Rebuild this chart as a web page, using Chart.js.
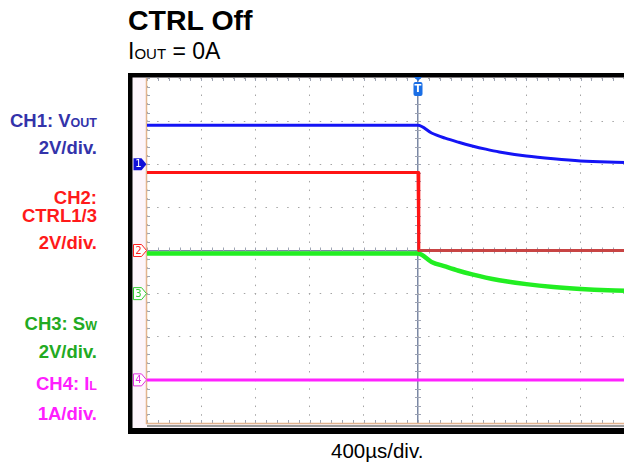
<!DOCTYPE html>
<html>
<head>
<meta charset="utf-8">
<script src="https://cdn.jsdelivr.net/npm/chart.js@4"></script>
<style>
  html, body { margin: 0; padding: 0; background: #fff; }
  body { width: 624px; height: 464px; overflow: hidden; position: relative; font-family: "Liberation Sans", Arial, sans-serif; }
  .t { position: absolute; line-height: 1; white-space: nowrap; }
  .lbl { left: 0; width: 97px; text-align: right; font-weight: bold; font-size: 18.5px; }
  .lbl small { font-size: 12.5px; }
  #wrap { position: absolute; left: 0; top: 0; width: 700px; height: 464px; }
</style>
</head>
<body>
<div class="t" style="left:128px;top:6px;font-size:28.5px;font-weight:bold;">CTRL Off</div>
<div class="t" style="left:128px;top:40px;font-size:23px;">I<span style="font-size:15px">OUT</span> = 0A</div>

<div class="t lbl" style="top:112px;color:#3333aa">CH1: V<small>OUT</small></div>
<div class="t lbl" style="top:139px;color:#3333aa">2V/div.</div>
<div class="t lbl" style="top:189px;color:#ff1a1a">CH2:</div>
<div class="t lbl" style="top:207px;color:#ff1a1a">CTRL1/3</div>
<div class="t lbl" style="top:234px;color:#ff1a1a">2V/div.</div>
<div class="t lbl" style="top:315px;color:#22aa22">CH3: S<small>W</small></div>
<div class="t lbl" style="top:343px;color:#22aa22">2V/div.</div>
<div class="t lbl" style="top:375px;color:#ff20ff">CH4: I<small>L</small></div>
<div class="t lbl" style="top:405px;color:#ff20ff">1A/div.</div>

<div class="t" style="left:331px;top:441px;font-size:20.5px;">400µs/div.</div>

<div id="wrap"><canvas id="scope"></canvas></div>

<script>
// time base in µs, trigger at 0
const timeUs  = [-2000, 0, 100, 200, 300, 400, 500, 600, 800, 1000, 1200, 1400, 1600];
const voutV   = [1.81, 1.81, 1.45, 1.21, 1.02, 0.85, 0.70, 0.57, 0.38, 0.25, 0.15, 0.10, 0.08];
const swV     = [1.86, 1.86, 1.47, 1.26, 1.06, 0.89, 0.74, 0.62, 0.44, 0.31, 0.22, 0.16, 0.13];
const ctrlTime = [-2000, 0, 6, 2000];
const ctrlV    = [3.62, 3.62, 0, 0];
const ilTime  = [-2000, 2000];
const ilA     = [0, 0];

// channel ground position (div from centre) and volts per div
const chGround = [2, 0, -1, -3];
const chPerDiv = [2, 2, 2, 1];
const chColors = ['#1414f5', '#ff1414', '#22ee22', '#ff22ff'];
const chMarkColors = ['#1010d8', '#ff2020', '#33cc33', '#e030e0'];

const pts = (xs, ys) => xs.map((x, i) => ({x, y: ys[i]}));

function chScale(i){
  return { type:'linear', display:false,
    min: (-4 - chGround[i]) * chPerDiv[i], max: (4 - chGround[i]) * chPerDiv[i] };
}

const frame = {
  id: 'frame',
  beforeDraw(chart){
    const {ctx, chartArea: a} = chart;
    ctx.save();
    ctx.fillStyle = '#000';
    ctx.fillRect(a.left - 19, a.top - 5, chart.width, a.bottom - a.top + 16);
    ctx.fillStyle = '#fdf5fb';
    ctx.fillRect(a.left - 14.5, a.top - 0.5, chart.width, a.bottom - a.top + 5.5);
    ctx.fillStyle = '#fff';
    ctx.fillRect(a.left, a.top, a.right - a.left, a.bottom - a.top);
    ctx.restore();
  },
  beforeDatasetsDraw(chart){
    const {ctx, chartArea: a, scales} = chart;
    const x0 = scales.x.getPixelForValue(0), y0 = scales.y.getPixelForValue(0);
    ctx.save();
    ctx.fillStyle = '#9ea4b4';
    for(let i = 0; i <= 50; i++){
      const px = Math.round(scales.x.getPixelForValue(-2000 + i * 80));
      ctx.fillRect(px, a.top, 1, 3);
      ctx.fillRect(px, a.bottom - 3, 1, 3);
      ctx.fillRect(px, y0 - 3, 1, 6);
    }
    for(let i = 0; i <= 40; i++){
      const py = Math.round(scales.y.getPixelForValue(-4 + i * 0.2));
      ctx.fillRect(a.left, py, 3, 1);
      ctx.fillRect(x0 - 3, py, 6, 1);
    }
    // tan borders + grey rail
    ctx.strokeStyle = '#e2b48e';
    ctx.lineWidth = 1.5;
    ctx.beginPath();
    ctx.moveTo(a.left - 0.5, a.top);
    ctx.lineTo(a.left - 0.5, a.bottom + 0.5);
    ctx.lineTo(a.right, a.bottom + 0.5);
    ctx.stroke();
    ctx.strokeStyle = '#9a9a9a';
    ctx.lineWidth = 2;
    ctx.beginPath();
    ctx.moveTo(a.left, a.bottom + 3);
    ctx.lineTo(a.right, a.bottom + 3);
    ctx.stroke();
    ctx.restore();
  },
  afterDraw(chart){
    const {ctx, chartArea: a, scales} = chart;
    ctx.save();
    ctx.font = '10px "DejaVu Sans", sans-serif';
    ctx.textAlign = 'center';
    ctx.textBaseline = 'middle';
    ['ch1','ch2','ch3','ch4'].forEach((id, i) => {
      const py = scales[id].getPixelForValue(0);
      const l = a.left - 13.5, r = a.left - 0.5;
      ctx.beginPath();
      ctx.moveTo(l, py - 6);
      ctx.lineTo(r - 5, py - 6);
      ctx.lineTo(r, py);
      ctx.lineTo(r - 5, py + 6);
      ctx.lineTo(l, py + 6);
      ctx.closePath();
      if(i === 0){
        ctx.fillStyle = chMarkColors[i];
        ctx.fill();
        ctx.fillStyle = '#fff';
      } else {
        ctx.fillStyle = '#fff';
        ctx.fill();
        ctx.strokeStyle = chMarkColors[i];
        ctx.lineWidth = 1;
        ctx.stroke();
        ctx.fillStyle = chMarkColors[i];
      }
      ctx.fillText(String(i + 1), l + 5, py + 0.5);
    });
    // trigger marker
    const tx = scales.x.getPixelForValue(0);
    ctx.fillStyle = '#1a6fe6';
    ctx.beginPath();
    ctx.moveTo(tx - 4, a.top - 1);
    ctx.lineTo(tx + 4, a.top - 1);
    ctx.lineTo(tx, a.top + 3);
    ctx.closePath();
    ctx.fill();
    ctx.beginPath();
    ctx.roundRect(tx - 4.5, a.top + 4, 9, 14, 2);
    ctx.fill();
    ctx.fillStyle = '#fff';
    ctx.font = 'bold 10px "DejaVu Sans", sans-serif';
    ctx.fillText('T', tx, a.top + 11.5);
    ctx.restore();
  }
};

const gridColor = c => c.tick && c.tick.value === 0 ? '#7b88a4' : '#a4a4a4';
const gridWidth = c => c.tick && c.tick.value === 0 ? 1.5 : 1;

new Chart(document.getElementById('scope'), {
  type: 'line',
  data: {
    datasets: [
      { label:'CH1', data: pts(timeUs, voutV), yAxisID:'ch1', borderColor: chColors[0], borderWidth: 3, cubicInterpolationMode:'monotone' },
      { label:'CH2', data: pts(ctrlTime, ctrlV), yAxisID:'ch2', borderColor: chColors[1], borderWidth: 3,
        segment: { borderColor: s => s.p0.parsed.y < 1 ? '#c84444' : undefined } },
      { label:'CH3', data: pts(timeUs, swV), yAxisID:'ch3', borderColor: chColors[2], borderWidth: 4.5, cubicInterpolationMode:'monotone' },
      { label:'CH4', data: pts(ilTime, ilA), yAxisID:'ch4', borderColor: chColors[3], borderWidth: 3 }
    ]
  },
  options: {
    responsive: true,
    maintainAspectRatio: false,
    animation: false,
    events: [],
    elements: { point: { radius: 0 }, line: { borderJoinStyle: 'round' } },
    layout: { padding: { left: 147, top: 78, right: 11, bottom: 41 } },
    plugins: { legend: { display: false }, tooltip: { enabled: false } },
    scales: {
      x: { type:'linear', min:-2000, max:2000,
        ticks: { display:false, stepSize: 400 },
        grid: { color: gridColor, lineWidth: gridWidth, drawTicks: false },
        border: { display:false, dash: c => c.tick && c.tick.value === 0 ? [] : [1.5, 7.14], dashOffset: 0.75 } },
      y: { type:'linear', min:-4, max:4,
        ticks: { display:false, stepSize: 1 },
        grid: { color: gridColor, lineWidth: gridWidth, drawTicks: false },
        border: { display:false, dash: c => c.tick && c.tick.value === 0 ? [] : [1.5, 9.34], dashOffset: 0.75 } },
      ch1: chScale(0), ch2: chScale(1), ch3: chScale(2), ch4: chScale(3)
    }
  },
  plugins: [frame]
});
</script>
</body>
</html>
